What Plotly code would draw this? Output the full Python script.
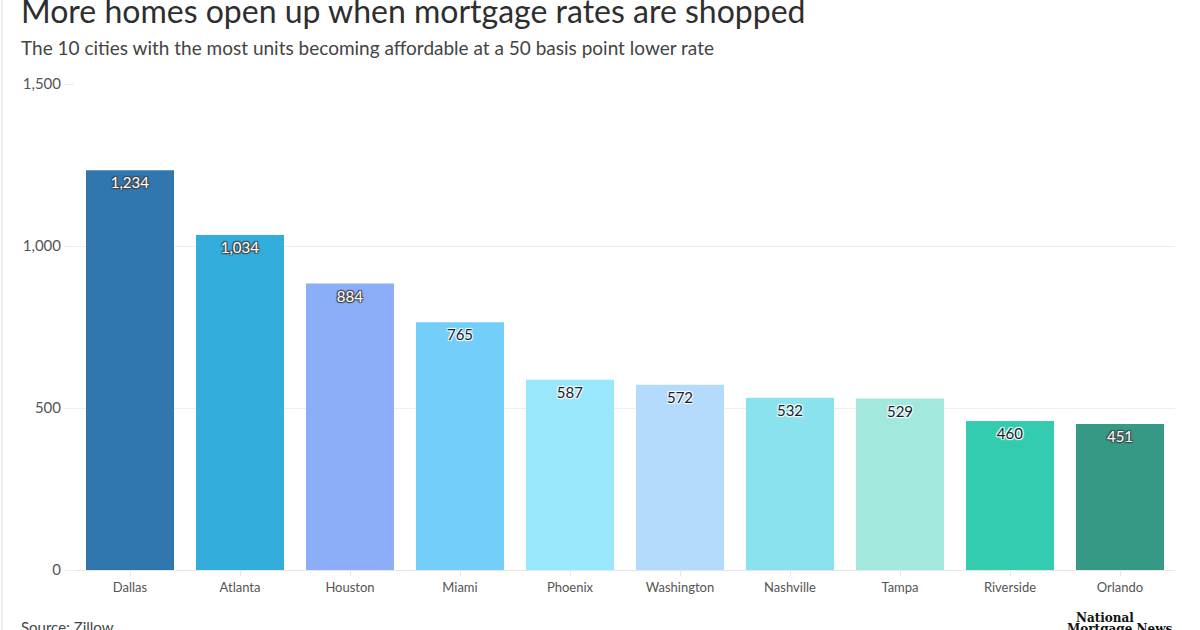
import plotly.graph_objects as go

cities = ["Dallas", "Atlanta", "Houston", "Miami", "Phoenix", "Washington",
          "Nashville", "Tampa", "Riverside", "Orlando"]
units = [1234, 1034, 884, 765, 587, 572, 532, 529, 460, 451]
bar_colors = ["#3077B0", "#33ADDC", "#8CAEF8", "#73CEFA", "#99E7FC", "#B4DAFC",
              "#8AE2EE", "#A3E8DC", "#33CCB0", "#359985"]
label_colors = ["#ffffff", "#ffffff", "#ffffff", "#16202a", "#16202a", "#16202a",
                "#16202a", "#16202a", "#16202a", "#ffffff"]
y_ticks = [0, 500, 1000, 1500]
y_ticktext = ["0", "500", "1,000", "1,500"]

FONT = "Lato, 'Open Sans', sans-serif"
X0 = -56 / 1100  # left edge of the text block, in paper units

fig = go.Figure()
fig.add_trace(go.Bar(
    x=cities, y=units,
    marker=dict(color=bar_colors, line=dict(width=0)),
    text=[f"{v:,}" for v in units],
    textposition="inside",
    insidetextanchor="end",
    textangle=0,
    textfont=dict(family=FONT, size=15, color=label_colors, shadow="auto"),
    hoverinfo="x+y",
))

fig.update_layout(
    width=1200, height=630,
    paper_bgcolor="white", plot_bgcolor="white",
    margin=dict(l=75, r=25, t=84, b=60),
    bargap=0.2,
    showlegend=False,
    font=dict(family=FONT, color="#555555"),
    xaxis=dict(
        showgrid=False,
        ticks="outside", ticklen=5, tickcolor="#e6e6e6",
        tickfont=dict(size=13, color="#555555"),
        showline=True, linecolor="#e6e6e6", linewidth=1,
    ),
    yaxis=dict(
        range=[0, 1500],
        tickvals=y_ticks, ticktext=y_ticktext,
        showgrid=True, gridcolor="#eeeeee", gridwidth=1,
        zeroline=False,
        ticks="outside", ticklen=10, tickcolor="#eeeeee",
        tickfont=dict(size=15, color="#555555"),
    ),
    annotations=[
        dict(text="More homes open up when mortgage rates are shopped",
             xref="paper", yref="paper", x=X0, y=1.0,
             xanchor="left", yanchor="middle", yshift=74,
             showarrow=False, font=dict(family=FONT, size=32, color="#2e2e2e")),
        dict(text="The 10 cities with the most units becoming affordable at a 50 basis point lower rate",
             xref="paper", yref="paper", x=X0, y=1.0,
             xanchor="left", yanchor="middle", yshift=37,
             showarrow=False, font=dict(family=FONT, size=19, color="#444444")),
        dict(text="Source: Zillow",
             xref="paper", yref="paper", x=X0, y=0,
             xanchor="left", yanchor="middle", yshift=-57,
             showarrow=False, font=dict(family=FONT, size=15, color="#444444")),
        dict(text="<b>National</b>",
             xref="paper", yref="paper", x=(1105 - 75) / 1100, y=0,
             xanchor="center", yanchor="middle", yshift=-48,
             showarrow=False,
             font=dict(family="'DejaVu Serif', serif", size=12, color="#111111")),
        dict(text="<b>Mortgage News</b>",
             xref="paper", yref="paper", x=(1119 - 75) / 1100, y=0,
             xanchor="center", yanchor="middle", yshift=-59,
             showarrow=False,
             font=dict(family="'DejaVu Serif', serif", size=12, color="#111111")),
    ],
    shapes=[
        dict(type="line", xref="paper", yref="paper", x0=-73 / 1100, x1=-73 / 1100,
             y0=-0.2, y1=1.3, line=dict(color="#dddddd", width=1)),
    ],
)

fig.write_html("out.html", config={"displayModeBar": False},
               post_script="document.body.style.margin='0';")
